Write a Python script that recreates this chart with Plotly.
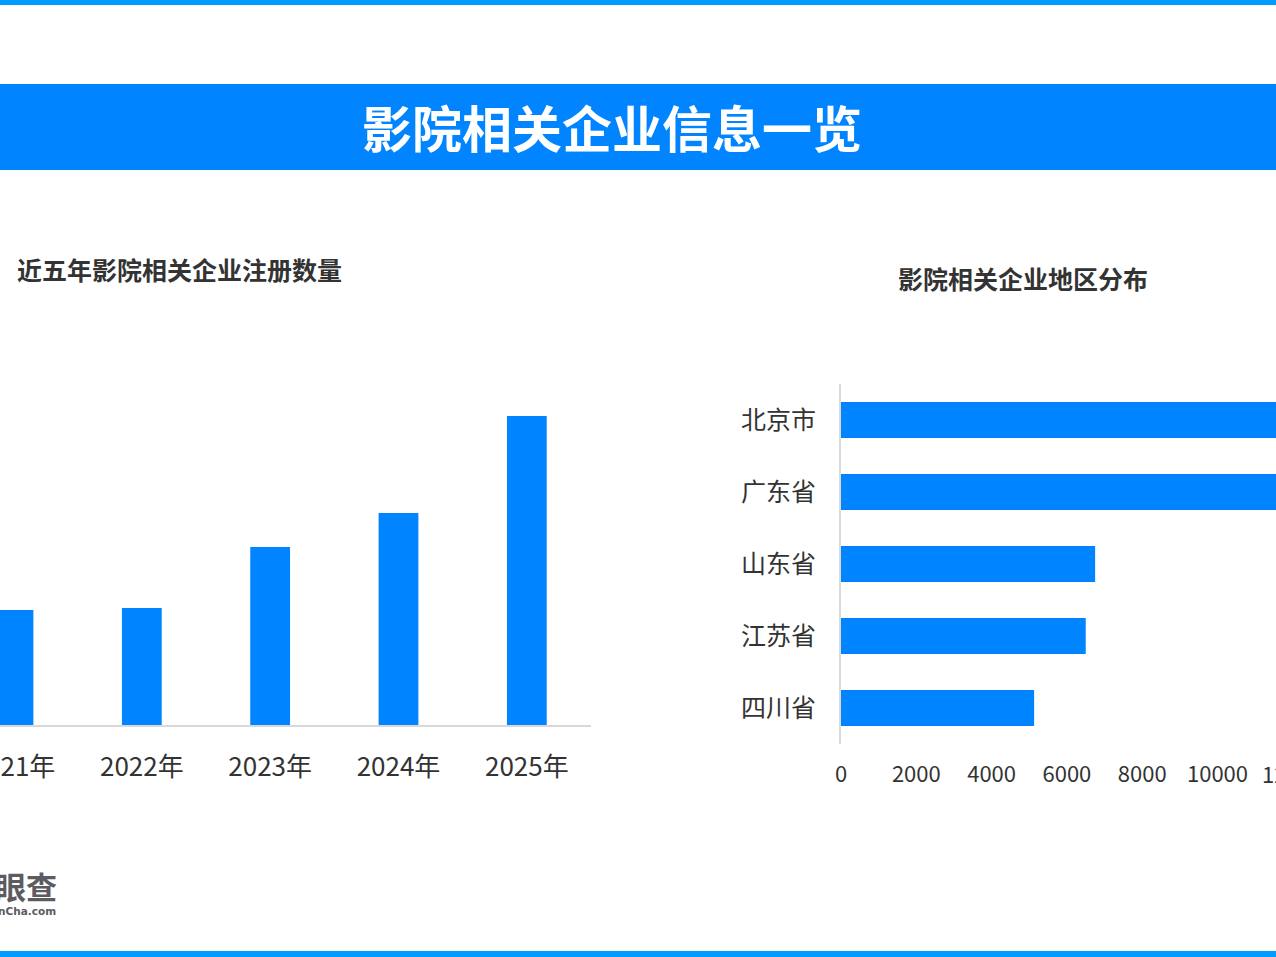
import plotly.graph_objects as go

W, H = 1276, 957

# ---- data ----
years = ["2021年", "2022年", "2023年", "2024年", "2025年"]
reg_counts = [1150, 1170, 1780, 2120, 3090]

regions = ["北京市", "广东省", "山东省", "江苏省", "四川省"]
region_counts = [13500, 12500, 6750, 6500, 5130]

x2_ticks = [0, 2000, 4000, 6000, 8000, 10000]
x2_extra_tick = 12000

BLUE = "#0084ff"
STRIPE = "#009cff"
TXT = "#333333"
GRID = "#d9d9d9"
CJK = "Noto Sans CJK SC"

def px(x):
    return x / W

def py(y):
    return 1 - y / H

fig = go.Figure()

fig.add_trace(go.Bar(
    x=list(range(len(years))), y=reg_counts, marker_color=BLUE, width=0.31,
    xaxis="x", yaxis="y", showlegend=False, hoverinfo="skip"))

fig.add_trace(go.Bar(
    y=regions, x=region_counts, orientation="h", marker_color=BLUE, width=0.5,
    xaxis="x2", yaxis="y2", showlegend=False, hoverinfo="skip"))

x1_range = [-0.105, 4.5]
x2_range = [0, 11554]
x2_dom = [px(841), 1.0]

fig.update_layout(
    template="none",
    width=W, height=H,
    margin=dict(l=0, r=0, t=0, b=0, pad=0, autoexpand=False),
    paper_bgcolor="white", plot_bgcolor="white",
    font=dict(family=CJK, color=TXT),
    hovermode=False,
    xaxis=dict(domain=[0, px(591)], range=x1_range,
               tickvals=list(range(len(years))), ticktext=years,
               tickfont=dict(size=26, color=TXT, family=CJK),
               showline=True, linecolor=GRID, linewidth=2,
               showgrid=False, zeroline=False, ticks="", ticklabelstandoff=18,
               ticklabeloverflow="allow", automargin=False,
               fixedrange=True),
    yaxis=dict(domain=[py(725), py(380)], range=[0, 3450],
               visible=False, showgrid=False, zeroline=False,
               automargin=False, fixedrange=True),
    xaxis2=dict(domain=x2_dom, range=x2_range, anchor="y2",
                tickvals=x2_ticks, ticktext=[str(v) for v in x2_ticks],
                tickfont=dict(size=22, color=TXT, family=CJK),
                showline=False, showgrid=False, zeroline=False, ticks="",
                ticklabelstandoff=15, ticklabeloverflow="allow",
                automargin=False, fixedrange=True),
    yaxis2=dict(domain=[py(744), py(384)], anchor="x2",
                categoryorder="array", categoryarray=regions, autorange="reversed",
                tickfont=dict(size=25, color=TXT, family=CJK),
                showline=True, linecolor=GRID, linewidth=2,
                showgrid=False, zeroline=False, ticks="", ticklabelstandoff=18,
                ticklabeloverflow="allow", automargin=False,
                fixedrange=True),
    bargap=0.5,
)

shapes = [
    dict(type="rect", xref="paper", yref="paper", x0=0, x1=1, y0=py(5), y1=1,
         fillcolor=STRIPE, line_width=0, layer="below"),
    dict(type="rect", xref="paper", yref="paper", x0=0, x1=1, y0=0, y1=py(951),
         fillcolor=STRIPE, line_width=0, layer="below"),
    dict(type="rect", xref="paper", yref="paper", x0=0, x1=1, y0=py(170), y1=py(84),
         fillcolor=BLUE, line_width=0, layer="below"),
]
fig.update_layout(shapes=shapes)

# position of the partly visible 12000 label (clipped by the page edge)
x2_extra_paper = x2_dom[0] + (x2_extra_tick - x2_range[0]) / (x2_range[1] - x2_range[0]) * (x2_dom[1] - x2_dom[0])

annotations = [
    dict(text="<b>影院相关企业信息一览</b>", xref="paper", yref="paper",
         x=px(612), y=py(126), xanchor="center", yanchor="middle",
         showarrow=False, font=dict(size=50, color="white", family=CJK)),
    dict(text="<b>近五年影院相关企业注册数量</b>", xref="paper", yref="paper",
         x=px(15), y=py(269), xanchor="left", yanchor="middle",
         showarrow=False, font=dict(size=25, color=TXT, family=CJK)),
    dict(text="<b>影院相关企业地区分布</b>", xref="paper", yref="paper",
         x=px(1023), y=py(278), xanchor="center", yanchor="middle",
         showarrow=False, font=dict(size=25, color=TXT, family=CJK)),
    dict(text=str(x2_extra_tick), xref="paper", yref="paper",
         x=x2_extra_paper, y=py(773), xanchor="center", yanchor="middle",
         showarrow=False, font=dict(size=22, color=TXT, family=CJK)),
    dict(text="<b>天眼查</b>", xref="paper", yref="paper",
         x=px(59), y=py(885), xanchor="right", yanchor="middle",
         showarrow=False, font=dict(size=31, color="#5b5b61", family=CJK)),
    dict(text="<b>TianYanCha.com</b>", xref="paper", yref="paper",
         x=px(58), y=py(911), xanchor="right", yanchor="middle",
         showarrow=False, font=dict(size=10.5, color="#5b5b61", family="DejaVu Sans")),
]
fig.update_layout(annotations=annotations)

fig.write_html(
    "out.html",
    config={"displayModeBar": False, "staticPlot": True},
    post_script="document.body.style.margin='0';document.body.style.overflow='hidden';",
)
